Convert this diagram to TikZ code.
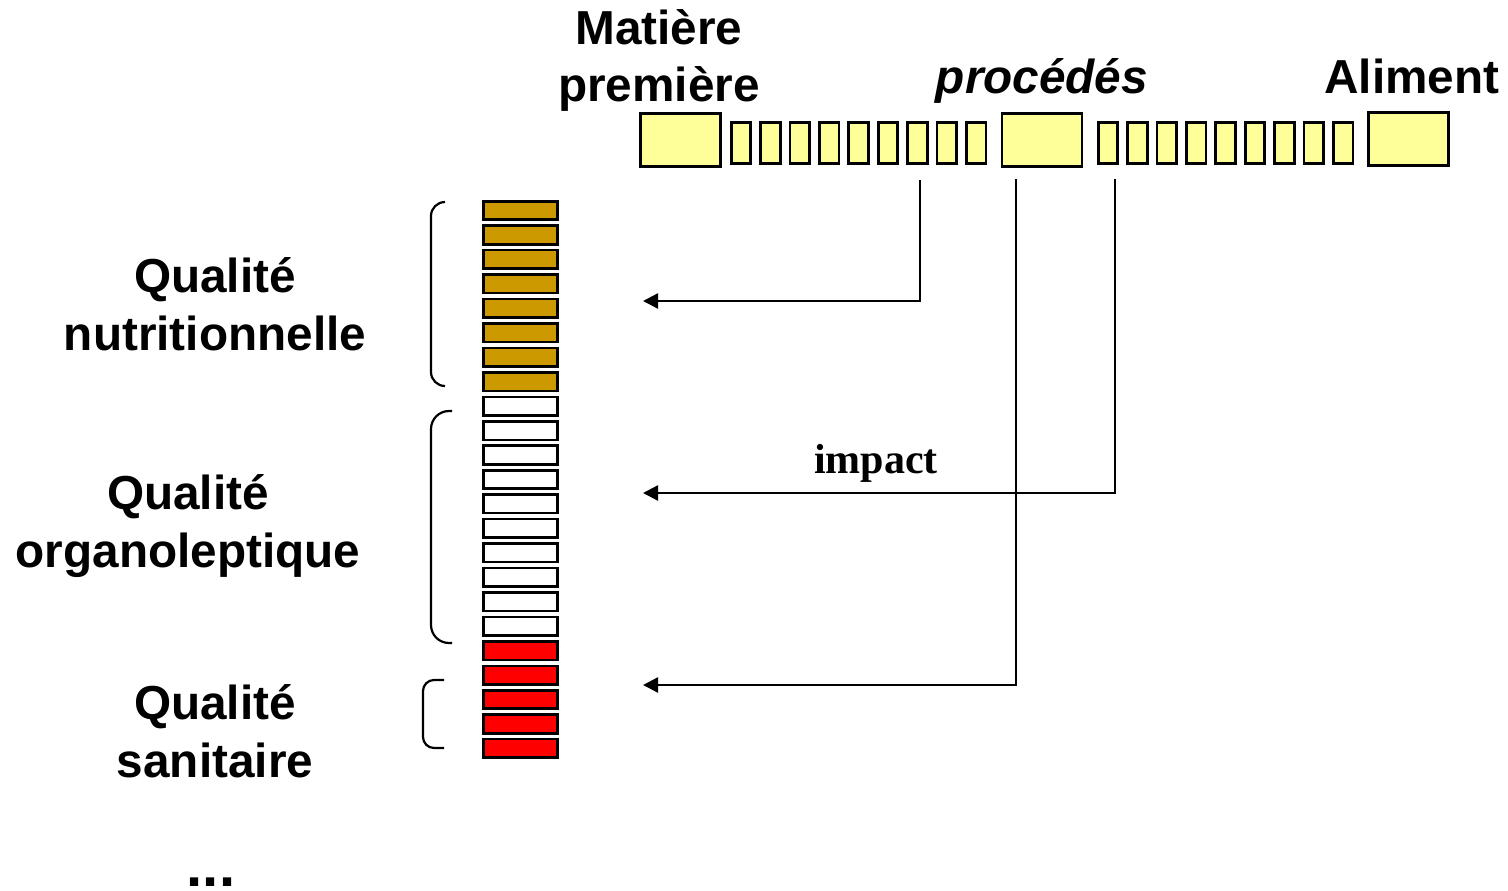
\documentclass[tikz,border=0pt]{standalone}
\usepackage{fontspec}
\setmainfont{Liberation Sans}
\newfontfamily\serifb{Liberation Serif}
\usetikzlibrary{arrows.meta}
\definecolor{boxyellow}{HTML}{FFFF99}
\definecolor{qgold}{HTML}{CC9900}
\definecolor{qred}{HTML}{FF0000}
\begin{document}
\begin{tikzpicture}[x=1pt,y=-1pt,
  lab/.style={font=\bfseries\fontsize{47.7}{57}\selectfont, inner sep=0pt, anchor=base},
  bigbox/.style={draw, line width=2.8pt, fill=boxyellow, minimum width=80pt, minimum height=53pt, inner sep=0pt},
  smallbox/.style={draw, line width=2.8pt, fill=boxyellow, minimum width=19.5pt, minimum height=41.5pt, inner sep=0pt},
  qbox/.style={draw, line width=2.6pt, minimum width=74.5pt, minimum height=18.5pt, inner sep=0pt},
  conn/.style={line width=2.4pt, -{Triangle[length=15pt,width=15pt]}},
  brk/.style={line width=2.2pt}]
\useasboundingbox (0,0) rectangle (1508,891);

% top chain
\node[bigbox] (mp) at (680.5,140) {};
\foreach \i in {0,...,8} {
  \node[smallbox] (a\i) at ({741+29.4*\i},143) {};
}
\node[bigbox] (pr) at (1042,140) {};
\foreach \i in {0,...,8} {
  \node[smallbox] (b\i) at ({1108+29.4*\i},143) {};
}
\node[bigbox] (al) at (1408.5,139) {};

% top labels
\node[lab] (mat1) at (659,45) {Matière};
\node[lab] (mat2) at (659,101) {première};
\node[lab, font=\bfseries\itshape\fontsize{47.7}{57}\selectfont] (proc) at (1042,93) {procédés};
\node[lab] (alim) at (1412,93) {Aliment};

% stack of quality boxes
\foreach \i in {0,...,7} {
  \node[qbox, fill=qgold] (q\i) at (520.5,{210.5+24.45*\i}) {};
}
\foreach \i in {8,...,17} {
  \node[qbox, fill=white] (q\i) at (520.5,{210.5+24.45*\i}) {};
}
\foreach \i in {18,...,22} {
  \node[qbox, fill=qred] (q\i) at (520.5,{210.5+24.45*\i}) {};
}

% brackets
\draw[brk, rounded corners=14pt] (445,202) -- (431,202) -- (431,386) -- (445,386);
\draw[brk, rounded corners=18pt] (452,411) -- (431,411) -- (431,643) -- (452,643);
\draw[brk, rounded corners=11pt] (444,680) -- (423,680) -- (423,748) -- (444,748);

% left labels
\node[lab] (qn1) at (215,292) {Qualité};
\node[lab] (qn2) at (215,350) {nutritionnelle};
\node[lab] (qo1) at (188,509) {Qualité};
\node[lab] (qo2) at (188,567) {organoleptique};
\node[lab] (qs1) at (215,719) {Qualité};
\node[lab] (qs2) at (215,777) {sanitaire};
\node[lab, font=\bfseries\fontsize{58}{60}\selectfont] (dots) at (211,886) {...};

% connectors
\coordinate (s1) at (920,180);
\coordinate (e1) at (643,301);
\coordinate (s2) at (1115,179);
\coordinate (e2) at (643,493);
\coordinate (s3) at (1016,179);
\coordinate (e3) at (643,685);
\draw[conn] (s1) |- (e1);
\draw[conn] (s2) |- (e2);
\draw[conn] (s3) |- (e3);
\node[font=\serifb\bfseries\fontsize{42}{50}\selectfont, inner sep=0pt, anchor=base] (imp) at (876,473) {impact};
\end{tikzpicture}
\end{document}
